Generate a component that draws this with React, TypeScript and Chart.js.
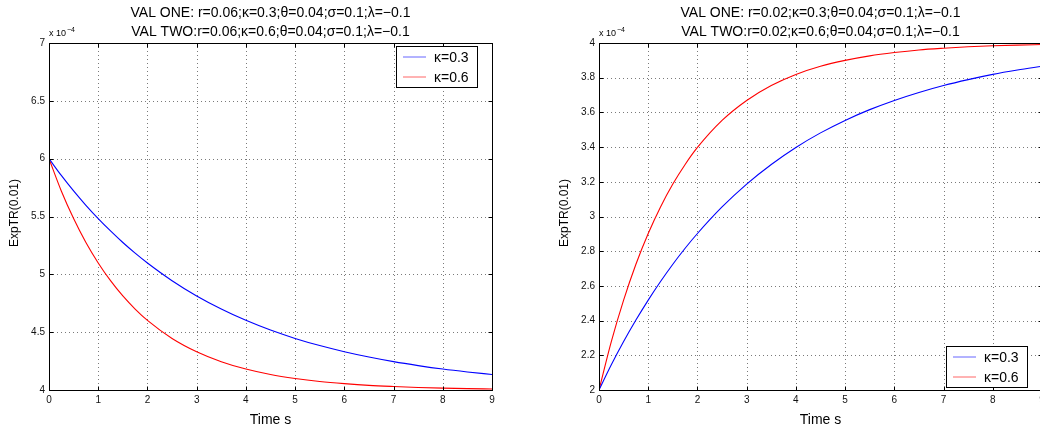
import React, { useEffect, useRef } from "react";
import { Chart, registerables } from "chart.js";

Chart.register(...registerables);

// ---------- data (values in units of 1e-4) ----------
const timeS = [0, 0.25, 0.5, 0.75, 1, 1.25, 1.5, 1.75, 2, 2.5, 3, 3.5, 4, 4.5, 5, 5.5, 6, 6.5, 7, 7.5, 8, 8.5, 9];

const leftKappa03 = [6.0, 5.855, 5.721, 5.597, 5.482, 5.375, 5.275, 5.183, 5.098, 4.945, 4.813, 4.7, 4.602, 4.518, 4.446, 4.384, 4.331, 4.285, 4.245, 4.211, 4.181, 4.156, 4.134];
const leftKappa06 = [6.0, 5.721, 5.482, 5.275, 5.098, 4.945, 4.813, 4.7, 4.602, 4.446, 4.331, 4.245, 4.181, 4.134, 4.1, 4.074, 4.055, 4.04, 4.03, 4.022, 4.016, 4.012, 4.009];

const rightKappa03 = [2.0, 2.145, 2.279, 2.403, 2.518, 2.625, 2.725, 2.817, 2.902, 3.055, 3.187, 3.3, 3.398, 3.482, 3.554, 3.616, 3.669, 3.715, 3.755, 3.789, 3.819, 3.844, 3.866];
const rightKappa06 = [2.0, 2.279, 2.518, 2.725, 2.902, 3.055, 3.187, 3.3, 3.398, 3.554, 3.669, 3.755, 3.819, 3.866, 3.9, 3.926, 3.945, 3.96, 3.97, 3.978, 3.984, 3.988, 3.991];

const seriesLabels = ["κ=0.3", "κ=0.6"];
const seriesColors = ["#0000ff", "#ff0000"];

const xTicks = [0, 1, 2, 3, 4, 5, 6, 7, 8, 9];
const xTickLabels = ["0", "1", "2", "3", "4", "5", "6", "7", "8", "9"];

const leftYTicks = [4, 4.5, 5, 5.5, 6, 6.5, 7];
const leftYTickLabels = ["4", "4.5", "5", "5.5", "6", "6.5", "7"];
const rightYTicks = [2, 2.2, 2.4, 2.6, 2.8, 3, 3.2, 3.4, 3.6, 3.8, 4];
const rightYTickLabels = ["2", "2.2", "2.4", "2.6", "2.8", "3", "3.2", "3.4", "3.6", "3.8", "4"];

const leftTitles = [
  "VAL ONE: r=0.06;κ=0.3;θ=0.04;σ=0.1;λ=−0.1",
  "VAL TWO:r=0.06;κ=0.6;θ=0.04;σ=0.1;λ=−0.1",
];
const rightTitles = [
  "VAL ONE: r=0.02;κ=0.3;θ=0.04;σ=0.1;λ=−0.1",
  "VAL TWO:r=0.02;κ=0.6;θ=0.04;σ=0.1;λ=−0.1",
];
const xAxisTitle = "Time s";
const yAxisTitle = "ExpTR(0.01)";

const FONT = "'Liberation Sans', Arial, Helvetica, sans-serif";

// ---------- MATLAB-like decorations ----------
const matlabPlugin = {
  id: "matlab",
  beforeDatasetsDraw(chart: any, _args: any, opts: any) {
    const { ctx, chartArea: a, scales } = chart;
    const x = scales.x;
    const y = scales.y;
    ctx.save();
    ctx.strokeStyle = "#7a7a7a";
    ctx.lineWidth = 1;
    ctx.setLineDash([1, 3]);
    for (const v of opts.xTicks) {
      const px = Math.round(x.getPixelForValue(v)) + 0.5;
      if (px <= a.left + 1 || px >= a.right - 1) continue;
      ctx.beginPath();
      ctx.moveTo(px, a.top);
      ctx.lineTo(px, a.bottom);
      ctx.stroke();
    }
    for (const v of opts.yTicks) {
      const py = Math.round(y.getPixelForValue(v)) + 0.5;
      if (py <= a.top + 1 || py >= a.bottom - 1) continue;
      ctx.beginPath();
      ctx.moveTo(a.left, py);
      ctx.lineTo(a.right, py);
      ctx.stroke();
    }
    ctx.restore();
  },
  afterDatasetsDraw(chart: any, _args: any, opts: any) {
    const { ctx, chartArea: a, scales } = chart;
    const x = scales.x;
    const y = scales.y;
    const L = Math.round(a.left) + 0.5;
    const R = Math.round(a.right) + 0.5;
    const T = Math.round(a.top) + 0.5;
    const B = Math.round(a.bottom) + 0.5;
    ctx.save();
    ctx.setLineDash([]);
    ctx.strokeStyle = "#000";
    ctx.lineWidth = 1;
    // inward ticks
    ctx.beginPath();
    for (const v of opts.xTicks) {
      const px = Math.round(x.getPixelForValue(v)) + 0.5;
      ctx.moveTo(px, B);
      ctx.lineTo(px, B - 4);
      ctx.moveTo(px, T);
      ctx.lineTo(px, T + 4);
    }
    for (const v of opts.yTicks) {
      const py = Math.round(y.getPixelForValue(v)) + 0.5;
      ctx.moveTo(L, py);
      ctx.lineTo(L + 4, py);
      ctx.moveTo(R, py);
      ctx.lineTo(R - 4, py);
    }
    ctx.stroke();
    // box
    ctx.strokeRect(L, T, R - L, B - T);

    // legend
    const bw = 81;
    const bh = 41;
    const bx = Math.round(a.right) - 15 - bw;
    const by = opts.legendPos === "ne" ? Math.round(a.top) + 3 : Math.round(a.bottom) - 3 - bh;
    ctx.fillStyle = "#fff";
    ctx.fillRect(bx, by, bw, bh);
    ctx.strokeStyle = "#000";
    ctx.strokeRect(bx + 0.5, by + 0.5, bw, bh);
    chart.data.datasets.forEach((ds: any, i: number) => {
      const ly = by + 11 + i * 20;
      ctx.strokeStyle = ds.borderColor;
      ctx.lineWidth = 1;
      ctx.globalAlpha = 0.6;
      ctx.beginPath();
      ctx.moveTo(bx + 7, ly);
      ctx.lineTo(bx + 30, ly);
      ctx.stroke();
      ctx.globalAlpha = 1;
      ctx.fillStyle = "#000";
      ctx.font = `14px ${FONT}`;
      ctx.textAlign = "left";
      ctx.textBaseline = "middle";
      ctx.fillText(ds.label, bx + 38, ly + 1);
    });

    // titles
    const cx = (a.left + a.right) / 2;
    ctx.fillStyle = "#000";
    ctx.font = `14px ${FONT}`;
    ctx.textAlign = "center";
    ctx.textBaseline = "middle";
    opts.titles.forEach((t: string, i: number) => {
      ctx.fillText(t, cx, 13 + i * 19);
    });

    // x axis title
    ctx.font = `14px ${FONT}`;
    ctx.fillText(opts.xTitle, cx, 420);

    // y axis title
    ctx.save();
    ctx.translate(opts.yTitleX, 213);
    ctx.rotate(-Math.PI / 2);
    ctx.font = `12px ${FONT}`;
    ctx.textAlign = "center";
    ctx.textBaseline = "middle";
    ctx.fillText(opts.yTitle, 0, 0);
    ctx.restore();

    // exponent
    ctx.font = `9px ${FONT}`;
    ctx.textAlign = "left";
    ctx.textBaseline = "alphabetic";
    ctx.fillText("x 10", Math.round(a.left), 36);
    const w = ctx.measureText("x 10").width;
    ctx.font = `7px ${FONT}`;
    ctx.fillText("−4", Math.round(a.left) + w + 1, 32);
    ctx.restore();
  },
};

function buildConfig(
  v03: number[],
  v06: number[],
  yMin: number,
  yMax: number,
  yTicks: number[],
  yTickLabels: string[],
  yWidth: number,
  padRight: number,
  titles: string[],
  legendPos: string,
  yTitleX: number
): any {
  const series = [v03, v06];
  return {
    type: "line",
    data: {
      datasets: series.map((vals, i) => ({
        label: seriesLabels[i],
        data: timeS.map((t, j) => ({ x: t, y: vals[j] })),
        borderColor: seriesColors[i],
        backgroundColor: seriesColors[i],
        borderWidth: 1.1,
        pointRadius: 0,
        fill: false,
        cubicInterpolationMode: "monotone",
      })),
    },
    plugins: [matlabPlugin],
    options: {
      responsive: false,
      animation: false,
      devicePixelRatio: 1,
      layout: { padding: { left: 0, top: 43, right: padRight, bottom: 0 } },
      plugins: {
        legend: { display: false },
        title: { display: false },
        tooltip: { enabled: false },
        matlab: {
          xTicks,
          yTicks,
          titles,
          legendPos,
          xTitle: xAxisTitle,
          yTitle: yAxisTitle,
          yTitleX,
        },
      },
      scales: {
        x: {
          type: "linear",
          min: 0,
          max: 9,
          afterBuildTicks: (s: any) => {
            s.ticks = xTicks.map((v) => ({ value: v }));
          },
          afterFit: (s: any) => {
            s.height = 41;
          },
          grid: { display: false, drawTicks: false },
          border: { display: false },
          ticks: {
            autoSkip: false,
            maxRotation: 0,
            padding: 4,
            color: "#111",
            font: { family: FONT, size: 10 },
            callback: (_v: any, i: number) => xTickLabels[i],
          },
        },
        y: {
          type: "linear",
          min: yMin,
          max: yMax,
          afterBuildTicks: (s: any) => {
            s.ticks = yTicks.map((v) => ({ value: v }));
          },
          afterFit: (s: any) => {
            s.width = yWidth;
          },
          grid: { display: false, drawTicks: false },
          border: { display: false },
          ticks: {
            autoSkip: false,
            padding: 4,
            color: "#111",
            font: { family: FONT, size: 10 },
            callback: (_v: any, i: number) => yTickLabels[i],
          },
        },
      },
    },
  };
}

export default function App() {
  const leftRef = useRef<HTMLCanvasElement | null>(null);
  const rightRef = useRef<HTMLCanvasElement | null>(null);

  useEffect(() => {
    const c1 = new Chart(
      leftRef.current as HTMLCanvasElement,
      buildConfig(leftKappa03, leftKappa06, 4, 7, leftYTicks, leftYTickLabels, 49, 28, leftTitles, "ne", 15)
    );
    const c2 = new Chart(
      rightRef.current as HTMLCanvasElement,
      buildConfig(rightKappa03, rightKappa06, 2, 4, rightYTicks, rightYTickLabels, 79, 8, rightTitles, "se", 45)
    );
    return () => {
      c1.destroy();
      c2.destroy();
    };
  }, []);

  return (
    <div
      style={{
        position: "absolute",
        left: 0,
        top: 0,
        width: 1040,
        height: 431,
        overflow: "hidden",
        background: "#fff",
      }}
    >
      <canvas
        ref={leftRef}
        width={520}
        height={431}
        style={{ position: "absolute", left: 0, top: 0, width: 520, height: 431 }}
      />
      <canvas
        ref={rightRef}
        width={530}
        height={431}
        style={{ position: "absolute", left: 520, top: 0, width: 530, height: 431 }}
      />
    </div>
  );
}
